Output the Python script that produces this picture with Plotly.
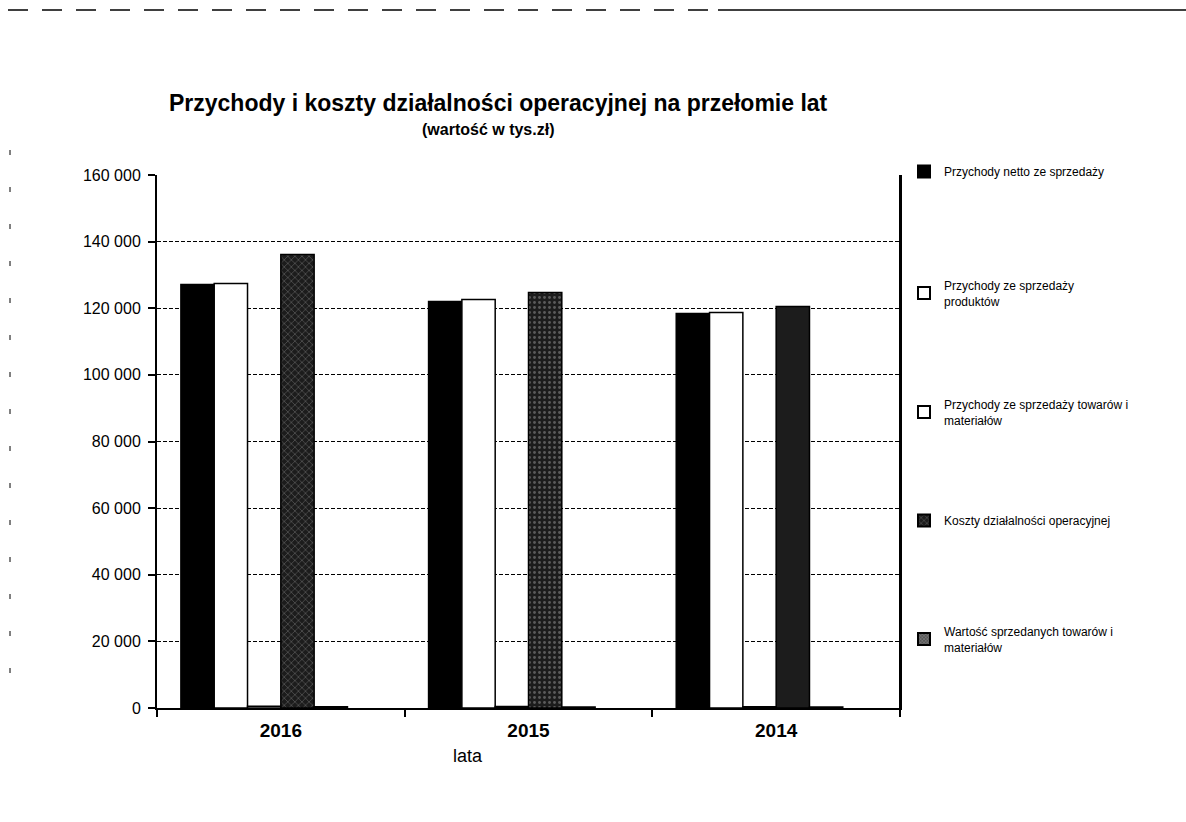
import plotly.graph_objects as go

years = ["2016", "2015", "2014"]
series_names = [
    "Przychody netto ze sprzedaży",
    "Przychody ze sprzedaży<br>produktów",
    "Przychody ze sprzedaży towarów i<br>materiałów",
    "Koszty działalności operacyjnej",
    "Wartość sprzedanych towarów i<br>materiałów",
]
netto = [127100, 122000, 118400]
produkty = [127400, 122600, 118700]
towary = [500, 450, 400]
koszty = [136100, 124700, 120500]
wartosc_towarow = [350, 300, 300]

FONT = "Liberation Sans, Arial, sans-serif"

W, H = 1186, 822
L, R, T, B = 157, 900, 175, 708
pw, ph = R - L, B - T


def px(x):
    return (x - L) / pw


def py(y):
    return (B - y) / ph


# bar geometry (category width = 1): six slots per cluster as in the original, five used
BW = 0.1345
OFF0 = -3 * BW

fig = go.Figure()
line = dict(color="black", width=1.5)
specs = [
    (netto, dict(color="black", line=line)),
    (produkty, dict(color="white", line=line)),
    (towary, dict(color="white", line=line)),
    (koszty, dict(color="#1c1c1c", line=line,
                  pattern=dict(shape=["x", ".", ""], fgcolor="#9a9a9a", size=5, solidity=0.25))),
    (wartosc_towarow, dict(color="#555555", line=line,
                           pattern=dict(shape="x", fgcolor="#dddddd", size=3, solidity=0.3))),
]
for i, (vals, marker) in enumerate(specs):
    fig.add_trace(go.Bar(
        x=years, y=vals, name=series_names[i], marker=marker,
        width=BW, offset=OFF0 + i * BW,
        legend="legend" if i == 0 else f"legend{i+1}",
    ))

legend_tops = [157, 271, 390, 506, 617]
leg_common = dict(x=px(904), xanchor="left", yanchor="top", bgcolor="rgba(0,0,0,0)",
                  font=dict(family=FONT, size=12, color="black"), itemsizing="constant",
                  visible=True)
legends = {}
for i, top in enumerate(legend_tops):
    key = "legend" if i == 0 else f"legend{i+1}"
    legends[key] = dict(leg_common, y=py(top))

annotations = [
    dict(text="<b>Przychody i koszty działalności operacyjnej na przełomie lat</b>",
         x=px(498), y=py(103), xref="paper", yref="paper", showarrow=False,
         font=dict(family=FONT, size=23, color="black"), xanchor="center", yanchor="middle"),
    dict(text="<b>(wartość w tys.zł)</b>",
         x=px(488), y=py(129), xref="paper", yref="paper", showarrow=False,
         font=dict(family=FONT, size=16, color="black"), xanchor="center", yanchor="middle"),
    dict(text="lata", x=px(468), y=py(756), xref="paper", yref="paper", showarrow=False,
         font=dict(family=FONT, size=18, color="black"), xanchor="center", yanchor="middle"),
]

shapes = [
    dict(type="line", xref="paper", yref="paper", x0=px(8), x1=px(718), y0=py(10), y1=py(10),
         line=dict(color="black", width=1.5, dash="20px,14px")),
    dict(type="line", xref="paper", yref="paper", x0=px(718), x1=px(1186), y0=py(10), y1=py(10),
         line=dict(color="black", width=1.5)),
    dict(type="line", xref="paper", yref="paper", x0=px(10), x1=px(10), y0=py(150), y1=py(700),
         line=dict(color="black", width=1, dash="5px,32px")),
    dict(type="line", xref="paper", yref="paper", x0=1, x1=1, y0=0, y1=1,
         line=dict(color="black", width=2)),
]

fig.update_layout(
    width=W, height=H,
    margin=dict(l=L, r=W - R, t=T, b=H - B),
    paper_bgcolor="white", plot_bgcolor="white",
    barmode="overlay",
    showlegend=True,
    separators=", ",
    font=dict(family=FONT, color="black"),
    annotations=annotations, shapes=shapes,
    **legends,
)
fig.update_xaxes(
    showline=True, linecolor="black", linewidth=2, mirror=False,
    ticks="outside", ticklen=7, tickcolor="black", tickwidth=1.5,
    tickson="boundaries", ticklabelstandoff=4,
    tickfont=dict(family=FONT, size=19, color="black", weight="bold"),
    showgrid=False,
)
fig.update_yaxes(
    range=[0, 160000], dtick=20000, tickformat=",d",
    showline=True, linecolor="black", linewidth=2, mirror=True,
    ticks="outside", ticklen=7, tickcolor="black", tickwidth=1.5,
    ticklabelstandoff=4,
    tickfont=dict(family=FONT, size=16, color="black"),
    showgrid=True, gridcolor="black", gridwidth=1.2, griddash="4px,2px",
    zeroline=False,
)

fig.write_html("out.html")
